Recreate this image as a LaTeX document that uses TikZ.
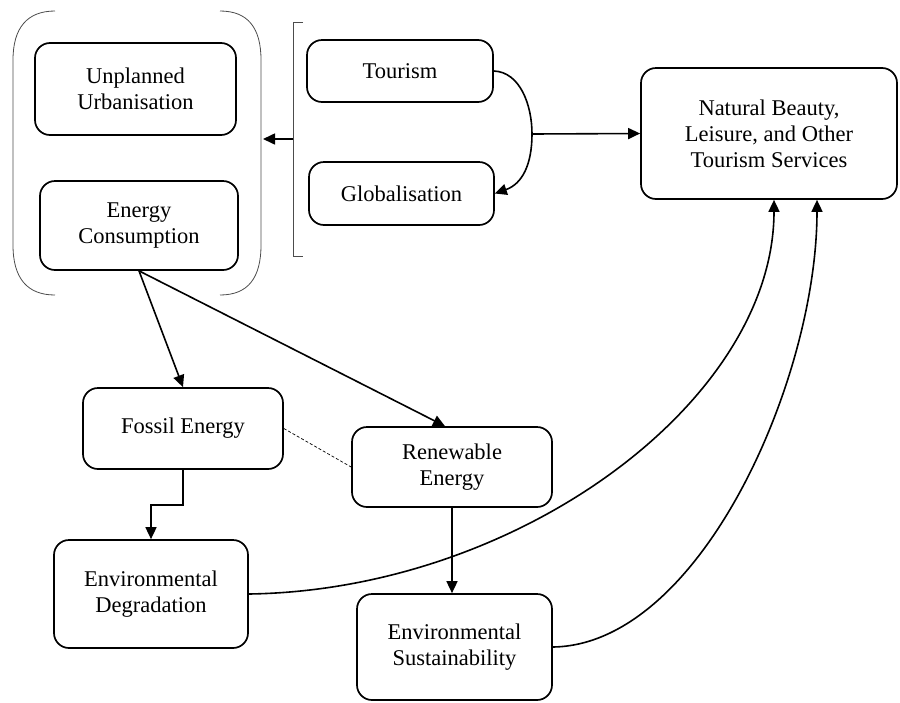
\documentclass[tikz,border=0pt]{standalone}
\usepackage{fontspec}
\setmainfont{Liberation Serif}
\usetikzlibrary{arrows.meta}
\begin{document}
\begin{tikzpicture}[x=1pt,y=-1pt,
  box/.style={draw, rounded corners=15pt, line width=1.7pt, align=center, inner sep=0pt,
    font=\fontsize{22.5}{26}\selectfont, text=black},
  conn/.style={line width=1.6pt, -{Triangle[length=12pt,width=11pt]}},
  brack/.style={line width=0.8pt, draw=black!70},
  dashline/.style={line width=0.7pt, dash pattern=on 3pt off 2pt}]
\useasboundingbox (0,0) rectangle (900,702);
% boxes
\node[box, minimum width=201pt, minimum height=92pt] (urb) at (135.5,89) {Unplanned\\Urbanisation};
\node[box, minimum width=198pt, minimum height=89pt] (cons) at (139,225.5) {Energy\\Consumption};
\node[box, minimum width=186pt, minimum height=62pt] (tour) at (400,71) {Tourism};
\node[box, minimum width=185pt, minimum height=63pt] (glob) at (401.5,193.5) {Globalisation};
\node[box, minimum width=256pt, minimum height=131pt] (nat) at (769,133.5) {Natural Beauty,\\Leisure, and Other\\Tourism Services};
\node[box, minimum width=200pt, minimum height=81pt] (fos) at (183,428.5) {Fossil Energy};
\node[box, minimum width=200pt, minimum height=80pt] (ren) at (452,467) {Renewable\\Energy};
\node[box, minimum width=194pt, minimum height=108pt] (deg) at (151,594) {Environmental\\Degradation};
\node[box, minimum width=195pt, minimum height=106pt] (sus) at (454.5,647) {Environmental\\Sustainability};
% round bracket around urbanisation and consumption
\draw[brack] (55,11) .. controls (27,11) and (13,28) .. (13,60) -- (13,245) .. controls (13,278) and (27,295) .. (55,295);
\draw[brack] (220,11) .. controls (248,11) and (261,28) .. (261,60) -- (261,245) .. controls (261,278) and (248,295) .. (220,295);
% square bracket around tourism and globalisation
\draw[brack] (303,22) -- (293,22) -- (293,256) -- (303,256);
\coordinate (brk) at (293,139);
\coordinate (par) at (263,139);
\draw[conn] (brk) -- (par);
% tourism -> globalisation curve and junction
\coordinate (junc) at (532,134);
\draw[conn] (tour.east) .. controls (520,72) and (532,105) .. (junc) .. controls (532,165) and (522,184) .. (glob.east);
\draw[conn] (junc) -- (nat.west);
% energy consumption
\draw[conn] (cons.south) -- (fos.north);
\draw[conn] (cons.south) -- ([xshift=-7pt]ren.north);
\draw[dashline] (fos.east) -- (ren.west);
\draw[conn] (fos.south) -- ++(0,35) -| (deg.north);
\draw[conn] (ren.south) -- (ren.south |- sus.north);
% to natural beauty
\draw[conn] (deg.east) .. controls (520,590) and (774,400) .. ([xshift=5pt]nat.south);
\draw[conn] (sus.east) .. controls (700,645) and (817,380) .. ([xshift=48pt]nat.south);
\end{tikzpicture}
\end{document}
